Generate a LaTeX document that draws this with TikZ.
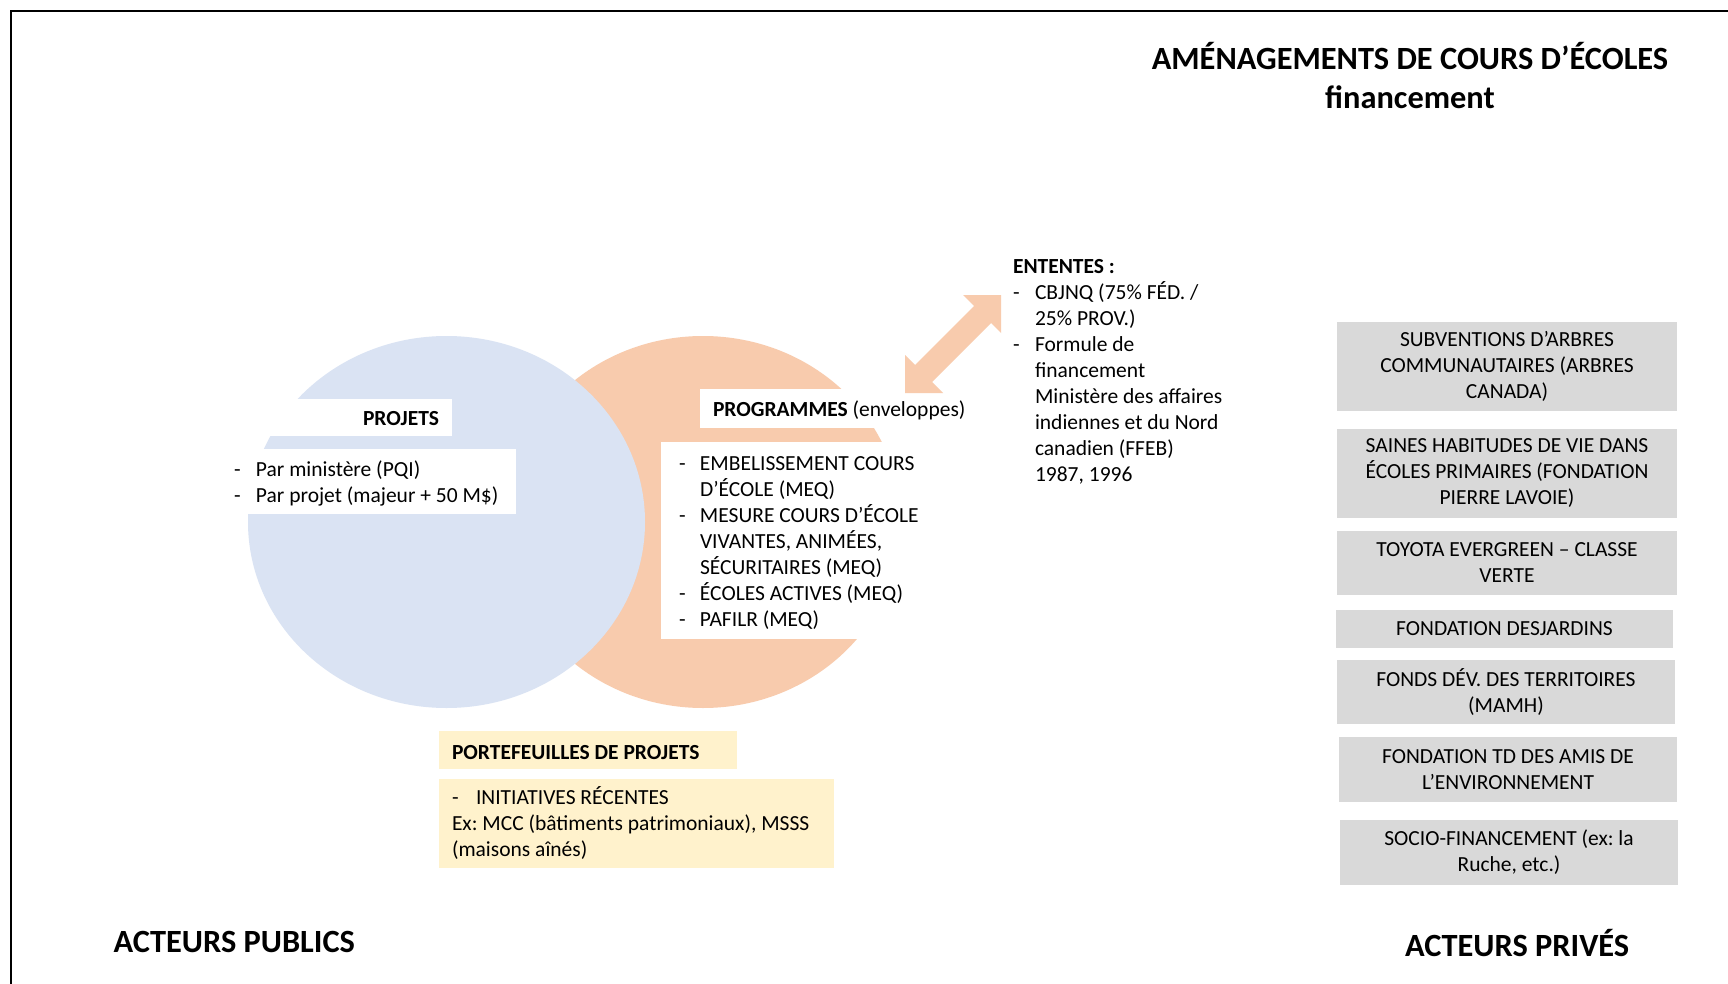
\documentclass[tikz,border=0pt]{standalone}
\usepackage{fontspec}
\setmainfont{Carlito}
\usetikzlibrary{fit,shapes.geometric}
\definecolor{cblue}{HTML}{DAE3F3}
\definecolor{corange}{HTML}{F8CBAD}
\definecolor{cgray}{HTML}{D9D9D9}
\definecolor{cyellow}{HTML}{FFF2CC}
\newcommand{\bodyfont}{\fontsize{10.75}{13}\selectfont}
\newcommand{\bigfont}{\fontsize{16.2}{19.5}\selectfont\bfseries}
\newcommand{\dashitem}[1][11pt]{\makebox[#1][l]{-}}
\newcommand{\contitem}[1][11pt]{\hspace*{#1}}
\begin{document}
\frenchspacing
\begin{tikzpicture}[x=0.5pt,y=-0.5pt,
  every node/.style={inner sep=0pt, outer sep=0pt},
  basetxt/.style={font=\bodyfont, anchor=base west},
  listblock/.style={font=\bodyfont, anchor=north west},
  whitebox/.style={fill=white, inner sep=0pt},
  yellowbox/.style={fill=cyellow, inner sep=0pt},
  graybox/.style={fill=cgray, inner sep=0pt},
  boxtext/.style={font=\bodyfont, align=center},
  bigtxt/.style={font=\bigfont},
  venn/.style={ellipse, inner sep=0pt, minimum width=198pt, minimum height=186pt}]
\useasboundingbox (0,0) rectangle (1728,984);
\fill[white] (0,0) rectangle (1728,984);
% frame
\draw[line width=1pt] (11,984) -- (11,11) -- (1728,11);
% title
\node[bigtxt, anchor=base] (title1) at (1410,70) {AMÉNAGEMENTS DE COURS D’ÉCOLES};
\node[bigtxt, anchor=base] (title2) at (1410,109) {financement};
% venn
\node[venn, fill=corange] (progc) at (703,522) {};
\node[venn, fill=cblue, minimum width=198.5pt] (projc) at (446.5,522) {};
% white boxes
\node[whitebox, fit={(262,399) (452,436)}] (projbox) {};
\node[whitebox, fit={(248,449) (516,514)}] (projlistbox) {};
\node[whitebox, fit={(700,389) (890,428)}] (progbox) {};
\node[whitebox, fit={(661,442) (925,639)}] (proglistbox) {};
% texts in venn
\node[font=\bodyfont\bfseries, anchor=base] (projt) at (401,425) {PROJETS};
\node[listblock] (projlist) at (234,458) {\begin{tabular}{@{}l@{}}
\dashitem Par ministère (PQI)\\
\dashitem Par projet (majeur + 50 M\$)
\end{tabular}};
\node[basetxt] (progt) at (713,416) {\textbf{PROGRAMMES} (enveloppes)};
\node[listblock] (proglist) at (679,452) {\begin{tabular}{@{}l@{}}
\dashitem[10.5pt]EMBELISSEMENT COURS\\
\contitem[10.5pt]D’ÉCOLE (MEQ)\\
\dashitem[10.5pt]MESURE COURS D’ÉCOLE\\
\contitem[10.5pt]VIVANTES, ANIMÉES,\\
\contitem[10.5pt]SÉCURITAIRES (MEQ)\\
\dashitem[10.5pt]ÉCOLES ACTIVES (MEQ)\\
\dashitem[10.5pt]PAFILR (MEQ)
\end{tabular}};
% ententes
\node[listblock] (ententes) at (1013,255) {\begin{tabular}{@{}l@{}}
\textbf{ENTENTES :}\\
\dashitem CBJNQ (75\% FÉD. /\\
\contitem 25\% PROV.)\\
\dashitem Formule de\\
\contitem financement\\
\contitem Ministère des affaires\\
\contitem indiennes et du Nord\\
\contitem canadien (FFEB)\\
\contitem 1987, 1996
\end{tabular}};
% double block arrow between programmes and ententes
\coordinate (T1) at (905,393);
\coordinate (T2) at (1001,295);
\fill[corange] (T2) -- (1001,333) -- (991,323) -- (932,382) -- (943,393)
  -- (T1) -- (905,355) -- (915,365) -- (974,306) -- (963,295) -- cycle;
% portefeuilles
\node[yellowbox, fit={(439,731) (737,769)}] (pfbox) {};
\node[basetxt, font=\bodyfont\bfseries] (pft) at (452,759) {PORTEFEUILLES DE PROJETS};
\node[yellowbox, fit={(439,779) (834,868)}] (pflistbox) {};
\node[listblock] (pflist) at (452,786) {\begin{tabular}{@{}l@{}}
\dashitem[12pt]INITIATIVES RÉCENTES\\
Ex: MCC (bâtiments patrimoniaux), MSSS\\
(maisons aînés)
\end{tabular}};
% private actors
\node[graybox, fit={(1337,322) (1677,411)}] (g1) {};
\node[boxtext] (g1t) at (g1.center) {SUBVENTIONS D’ARBRES\\COMMUNAUTAIRES (ARBRES\\CANADA)};
\node[graybox, fit={(1337,429) (1677,518)}] (g2) {};
\node[boxtext] (g2t) at (g2.center) {SAINES HABITUDES DE VIE DANS\\ÉCOLES PRIMAIRES (FONDATION\\PIERRE LAVOIE)};
\node[graybox, fit={(1337,531) (1677,595)}] (g3) {};
\node[boxtext] (g3t) at (g3.center) {TOYOTA EVERGREEN – CLASSE\\VERTE};
\node[graybox, fit={(1336,610) (1673,648)}] (g4) {};
\node[boxtext] (g4t) at (g4.center) {FONDATION DESJARDINS};
\node[graybox, fit={(1337,660) (1675,724)}] (g5) {};
\node[boxtext] (g5t) at (g5.center) {FONDS DÉV. DES TERRITOIRES\\(MAMH)};
\node[graybox, fit={(1339,737) (1677,802)}] (g6) {};
\node[boxtext] (g6t) at (g6.center) {FONDATION TD DES AMIS DE\\L’ENVIRONNEMENT};
\node[graybox, fit={(1340,820) (1678,885)}] (g7) {};
\node[boxtext] (g7t) at (g7.center) {SOCIO-FINANCEMENT (ex: la\\Ruche, etc.)};
% actors labels
\node[bigtxt, anchor=base west] (pub) at (113.5,952) {ACTEURS PUBLICS};
\node[bigtxt, anchor=base west] (priv) at (1405,956) {ACTEURS PRIVÉS};
\end{tikzpicture}
\end{document}
